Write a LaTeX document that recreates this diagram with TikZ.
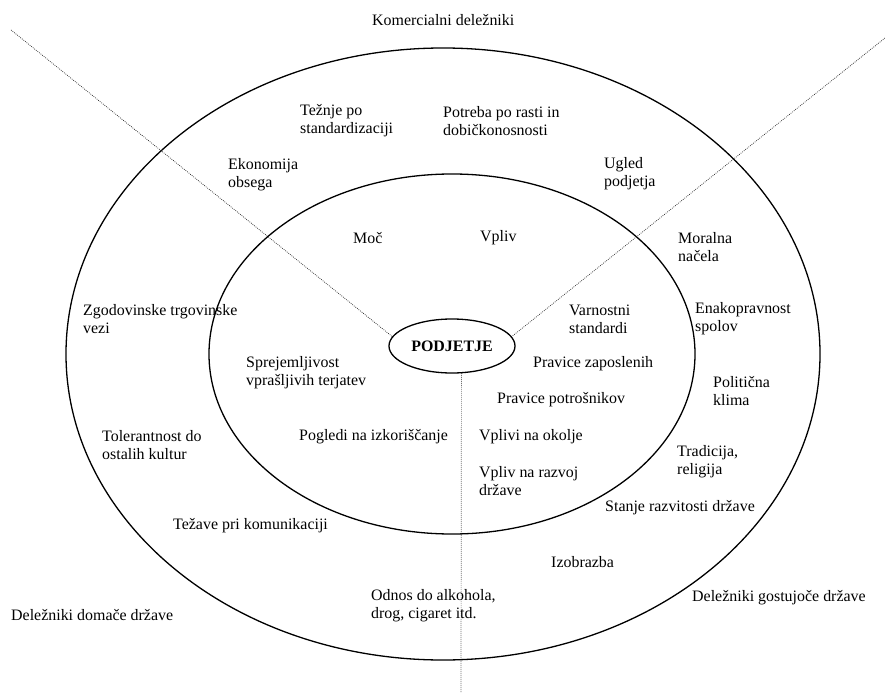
\documentclass[tikz,border=0pt]{standalone}
\usepackage{fontspec}
\setmainfont{Liberation Serif}
\usetikzlibrary{shapes.geometric}
\begin{document}
\begin{tikzpicture}[x=1bp,y=-1bp,
  lbl/.style={anchor=west,align=left,inner sep=0pt,font=\fontsize{16}{18}\selectfont},
  ring/.style={draw=black,line width=1.3bp},
  dots/.style={draw=black!85,line width=0.7bp,dash pattern=on 0.8bp off 1.2bp}]
\useasboundingbox (0,0) rectangle (885,693);
\draw[ring] (443,354) ellipse [x radius=377bp, y radius=306bp];
\draw[ring] (452,354) ellipse [x radius=243bp, y radius=180bp];
\node[ellipse, draw, fill=white, line width=1.3bp, minimum width=126bp, minimum height=54bp, inner sep=0pt,
  font=\fontsize{16}{18}\selectfont\bfseries] (p) at (452,346) {PODJETJE};
\coordinate (tl) at (11,30);
\coordinate (tr) at (885,38);
\coordinate (bt) at (461,693);
\draw[dots] (tl) -- (p.171);
\draw[dots] (tr) -- (p.9);
\draw[dots] (p.-71) -- (bt);

\node[lbl] (komer) at (372,20) {Komercialni deležniki};
\node[lbl] (tezn) at (300,121) {Težnje po\\standardizaciji};
\node[lbl] (potr) at (443,121) {Potreba po rasti in\\dobičkonosnosti};
\node[lbl] (ekon) at (228,175) {Ekonomija\\obsega};
\node[lbl] (ugle) at (604,174) {Ugled\\podjetja};
\node[lbl] (moc) at (353,238) {Moč};
\node[lbl] (vpl) at (480,238) {Vpliv};
\node[lbl] (mora) at (678,247) {Moralna\\načela};
\node[lbl] (zgod) at (83,319) {Zgodovinske trgovinske\\vezi};
\node[lbl] (varn) at (569,319) {Varnostni\\standardi};
\node[lbl] (enak) at (695,319) {Enakopravnost\\spolov};
\node[lbl] (sprej) at (246,373) {Sprejemljivost\\vprašljivih terjatev};
\node[lbl] (prz) at (533,364) {Pravice zaposlenih};
\node[lbl] (poli) at (713,391) {Politična\\klima};
\node[lbl] (prp) at (497,400) {Pravice potrošnikov};
\node[lbl] (tole) at (102,445) {Tolerantnost do\\ostalih kultur};
\node[lbl] (pogl) at (299,437) {Pogledi na izkoriščanje};
\node[lbl] (okol) at (479,437) {Vplivi na okolje};
\node[lbl] (trad) at (677,462) {Tradicija,\\religija};
\node[lbl] (razv) at (479,481) {Vpliv na razvoj\\države};
\node[lbl] (stan) at (605,508) {Stanje razvitosti države};
\node[lbl] (teza) at (173,526) {Težave pri komunikaciji};
\node[lbl] (izob) at (551,562) {Izobrazba};
\node[lbl] (odno) at (371,606) {Odnos do alkohola,\\drog, cigaret itd.};
\node[lbl] (dom) at (11,615) {Deležniki domače države};
\node[lbl] (gost) at (692,598) {Deležniki gostujoče države};
\end{tikzpicture}
\end{document}
